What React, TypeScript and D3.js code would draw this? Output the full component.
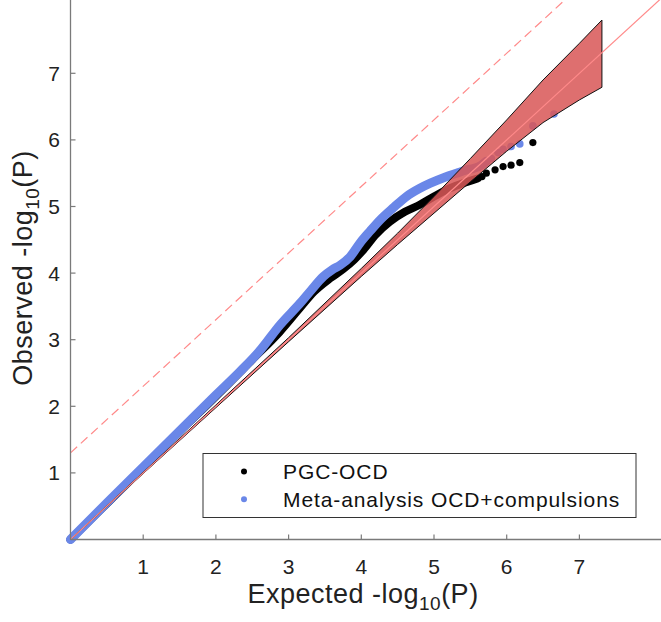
import React from "react";
import * as d3 from "d3";

// ---- data ----
const xTicks = [1, 2, 3, 4, 5, 6, 7];
const yTicks = [1, 2, 3, 4, 5, 6, 7];

// confidence band around y = x
const bandX = [0, 1, 2, 3, 4, 4.5, 5, 5.5, 6, 6.5, 7, 7.31];
const bandLower = [0, 0.99, 1.98, 2.97, 3.95, 4.43, 4.9, 5.37, 5.83, 6.26, 6.6, 6.79];
const bandUpper = [0, 1.01, 2.02, 3.03, 4.07, 4.6, 5.15, 5.72, 6.3, 6.9, 7.45, 7.8];

// dense part of QQ points (expected, observed)
const pgcExp = [0, 0.5, 1, 1.5, 2, 2.5, 2.88, 3.16, 3.35, 3.57, 3.75, 3.9, 4.03, 4.2, 4.39, 4.6, 4.81, 5.0, 5.17, 5.35, 5.54, 5.6];
const pgcObs = [0, 0.54, 1.08, 1.62, 2.15, 2.7, 3.12, 3.48, 3.72, 3.92, 4.06, 4.2, 4.35, 4.58, 4.77, 4.92, 5.03, 5.15, 5.25, 5.33, 5.4, 5.42];
// sparse tail points
const pgcTailExp = [5.66, 5.72, 5.84, 5.95, 6.06, 6.18, 6.36];
const pgcTailObs = [5.45, 5.5, 5.55, 5.6, 5.62, 5.66, 5.96];

const metaExp = [0, 0.5, 1.0, 1.5, 2.0, 2.33, 2.6, 2.88, 3.16, 3.3, 3.48, 3.6, 3.71, 3.85, 3.98, 4.12, 4.26, 4.45, 4.62, 4.8, 4.95, 5.15, 5.31, 5.45, 5.54, 5.65, 5.72];
const metaObs = [0, 0.55, 1.09, 1.63, 2.17, 2.52, 2.83, 3.22, 3.55, 3.73, 3.95, 4.05, 4.12, 4.25, 4.45, 4.63, 4.8, 4.99, 5.15, 5.27, 5.35, 5.44, 5.5, 5.55, 5.57, 5.62, 5.68];
const metaTailExp = [5.79, 5.88, 5.95, 6.06, 6.18, 6.36, 6.65];
const metaTailObs = [5.72, 5.81, 5.86, 5.9, 5.94, 6.21, 6.39];

const legendLabels = ["PGC-OCD", "Meta-analysis OCD+compulsions"];
const significanceOffset = 1.301; // -log10(0.05)

const W = 661;
const H = 622;
const FONT = "'Liberation Sans', Arial, Helvetica, sans-serif";
const AXIS = "#7a7a7a";
const BLUE = "#6a87e8";
const RED = "#d95757";
const PINK = "#ff8a8a";

export default function App() {
  const x = d3.scaleLinear().domain([0, 8.2]).range([70.5, 70.5 + 8.2 * 72.7]);
  const y = d3.scaleLinear().domain([0, 8.2]).range([539.5, 539.5 - 8.2 * 66.6]);

  const bandData = bandX.map((v, i) => ({ x: v, lo: bandLower[i], hi: bandUpper[i] }));
  const area = d3
    .area<{ x: number; lo: number; hi: number }>()
    .x((d) => x(d.x))
    .y0((d) => y(d.lo))
    .y1((d) => y(d.hi));
  const bandPath = d3
    .line<[number, number]>()
    .x((d) => x(d[0]))
    .y((d) => y(d[1]));
  const outline: [number, number][] = [
    ...bandData.map((d) => [d.x, d.hi] as [number, number]),
    ...bandData
      .slice()
      .reverse()
      .map((d) => [d.x, d.lo] as [number, number]),
  ];

  const line = d3
    .line<[number, number]>()
    .x((d) => x(d[0]))
    .y((d) => y(d[1]))
    .curve(d3.curveMonotoneX);

  const pgc = pgcExp.map((v, i) => [v, pgcObs[i]] as [number, number]);
  const meta = metaExp.map((v, i) => [v, metaObs[i]] as [number, number]);

  const x0 = x(0);
  const y0 = y(0);

  return (
    <svg
      width={W}
      height={H}
      style={{ position: "absolute", left: 0, top: 0, background: "#fff" }}
      fontFamily={FONT}
    >
      <rect width={W} height={H} fill="#fff" />
      {/* PGC-OCD */}
      <path d={line(pgc) || ""} fill="none" stroke="#000" strokeWidth={8} strokeLinecap="round" strokeLinejoin="round" />
      {pgcTailExp.map((v, i) => (
        <circle key={"p" + i} cx={x(v)} cy={y(pgcTailObs[i])} r={3.6} fill="#000" />
      ))}
      {/* Meta */}
      <path d={line(meta) || ""} fill="none" stroke={BLUE} strokeWidth={9} strokeLinecap="round" strokeLinejoin="round" />
      {metaTailExp.map((v, i) => (
        <circle key={"m" + i} cx={x(v)} cy={y(metaTailObs[i])} r={3.8} fill={BLUE} />
      ))}
      {/* band */}
      <path d={area(bandData) || ""} fill={RED} fillOpacity={0.86} stroke="none" />
      <path d={(bandPath(outline) || "") + "Z"} fill="none" stroke="#111" strokeWidth={1} />
      {/* reference lines */}
      <line x1={x(0)} y1={y(0)} x2={x(8.2)} y2={y(8.2)} stroke={PINK} strokeWidth={1.2} />
      <line
        x1={x(0)}
        y1={y(significanceOffset)}
        x2={x(8.2)}
        y2={y(8.2 + significanceOffset)}
        stroke={PINK}
        strokeWidth={1.2}
        strokeDasharray="9 5"
      />
      {/* axes */}
      <line x1={x0} y1={0} x2={x0} y2={y0} stroke={AXIS} strokeWidth={1.3} />
      <line x1={x0} y1={y0} x2={W} y2={y0} stroke={AXIS} strokeWidth={1.3} />
      {xTicks.map((t) => (
        <g key={"xt" + t}>
          <line x1={x(t)} x2={x(t)} y1={y0} y2={y0 - 5} stroke={AXIS} strokeWidth={1.2} />
          <text x={x(t)} y={574} textAnchor="middle" fontSize={21} fill="#222">
            {t}
          </text>
        </g>
      ))}
      {yTicks.map((t) => (
        <g key={"yt" + t}>
          <line x1={x0} x2={x0 + 5} y1={y(t)} y2={y(t)} stroke={AXIS} strokeWidth={1.2} />
          <text x={60} y={y(t) + 7.5} textAnchor="end" fontSize={21} fill="#222">
            {t}
          </text>
        </g>
      ))}
      {/* axis labels */}
      <text x={363} y={603} textAnchor="middle" fontSize={27} letterSpacing={0.5} fill="#222">
        Expected -log
        <tspan fontSize={19} dy={7}>10</tspan>
        <tspan dy={-7}>(P)</tspan>
      </text>
      <text transform="translate(32,268) rotate(-90)" textAnchor="middle" fontSize={27} letterSpacing={0.5} fill="#222">
        Observed -log
        <tspan fontSize={19} dy={7}>10</tspan>
        <tspan dy={-7}>(P)</tspan>
      </text>
      {/* legend */}
      <rect x={203} y={453.5} width={433} height={64} fill="#fff" stroke="#333" strokeWidth={1} />
      <circle cx={244} cy={471.5} r={3} fill="#000" />
      <circle cx={244} cy={499.3} r={3} fill={BLUE} />
      <text x={283} y={479} fontSize={21} letterSpacing={0.9} fill="#111">
        {legendLabels[0]}
      </text>
      <text x={283} y={507} fontSize={21} letterSpacing={0.9} fill="#111">
        {legendLabels[1]}
      </text>
    </svg>
  );
}
